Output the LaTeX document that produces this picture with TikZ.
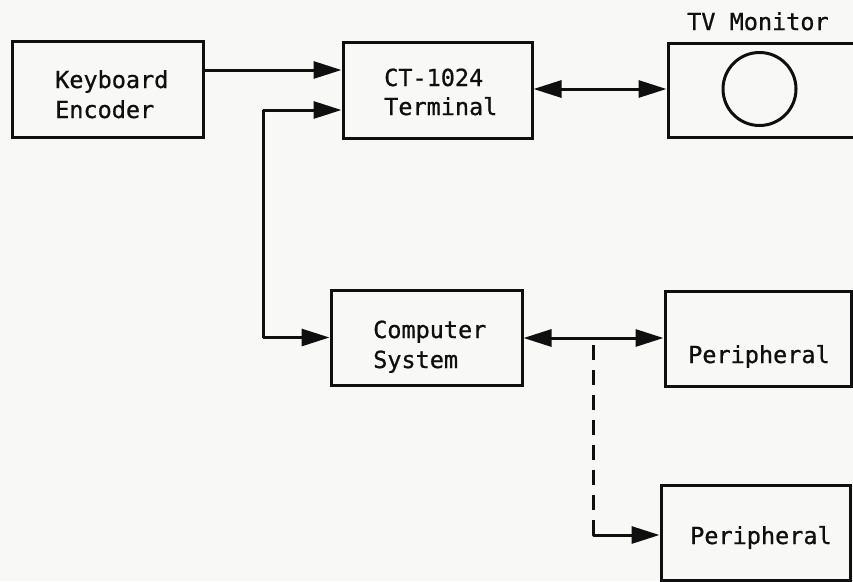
\documentclass[tikz,border=0pt]{standalone}
\usepackage{fontspec}
\setmonofont[FakeBold=0.8]{DejaVu Sans Mono}
\usetikzlibrary{arrows.meta}
\definecolor{paper}{RGB}{248,248,247}
\definecolor{ink}{RGB}{15,15,15}
\begin{document}
\begin{tikzpicture}[x=1pt,y=-1pt,
  box/.style={draw=ink, line width=3pt, rectangle, inner sep=0pt},
  lbl/.style={anchor=base west, inner sep=0pt, text=ink,
    font=\ttfamily\fontsize{23.5}{29}\selectfont},
  link/.style={draw=ink, line width=3pt, line join=round},
  tip/.style={-{Triangle[length=28pt,width=17pt]}},
  tips/.style={{Triangle[length=28pt,width=17pt]}-{Triangle[length=28pt,width=17pt]}},
  dashlink/.style={draw=ink, line width=3pt, dash pattern=on 15pt off 10pt}]

% page
\clip (0,0) rectangle (853,581);
\fill[paper] (0,0) rectangle (853,581);

% boxes
\node[box, minimum width=191pt, minimum height=96pt] (ke) at (107.5,89) {};
\node[box, minimum width=189pt, minimum height=96pt] (ct) at (437.5,90) {};
\node[box, minimum width=200pt, minimum height=94pt] (tv) at (768,90) {};
\node[draw=ink, line width=3pt, circle, minimum size=73pt, inner sep=0pt] (screen) at (759.5,89) {};
\node[box, minimum width=191pt, minimum height=95pt] (cs) at (426.5,337.5) {};
\node[box, minimum width=186pt, minimum height=95pt] (pa) at (758,338.5) {};
\node[box, minimum width=189pt, minimum height=95pt] (pb) at (755.5,533) {};

% labels
\node[lbl] (t1) at (55,88) {Keyboard};
\node[lbl] (t2) at (55,118) {Encoder};
\node[lbl] (t3) at (384,86) {CT-1024};
\node[lbl] (t4) at (384,115) {Terminal};
\node[lbl] (t5) at (687,30) {TV Monitor};
\node[lbl] (t6) at (373,338) {Computer};
\node[lbl] (t7) at (373,368) {System};
\node[lbl] (t8) at (688,363) {Peripheral};
\node[lbl] (t9) at (690,544) {Peripheral};

% connector waypoints
\coordinate (bend) at (263,0);
\coordinate (tap) at (593,345);
\coordinate (dashend) at (593,510);
\coordinate (solidstart) at (593,520);
\coordinate (corner) at (593,535);

% connectors
\draw[link, tip] (ke.east |- 0,70) -- (ct.west |- 0,70);
\draw[link, tips] (ct.east |- 0,89) -- (tv.west |- 0,89);
\draw[link, tips] (ct.west |- 0,110) -| (bend |- cs.west) -- (cs.west);
\draw[link, tips] (cs.east |- 0,338) -- (pa.west |- 0,338);
\draw[dashlink] (tap) -- (dashend);
\draw[link, tip] (solidstart) -- (corner) -- (pb.west |- corner);
\end{tikzpicture}
\end{document}
